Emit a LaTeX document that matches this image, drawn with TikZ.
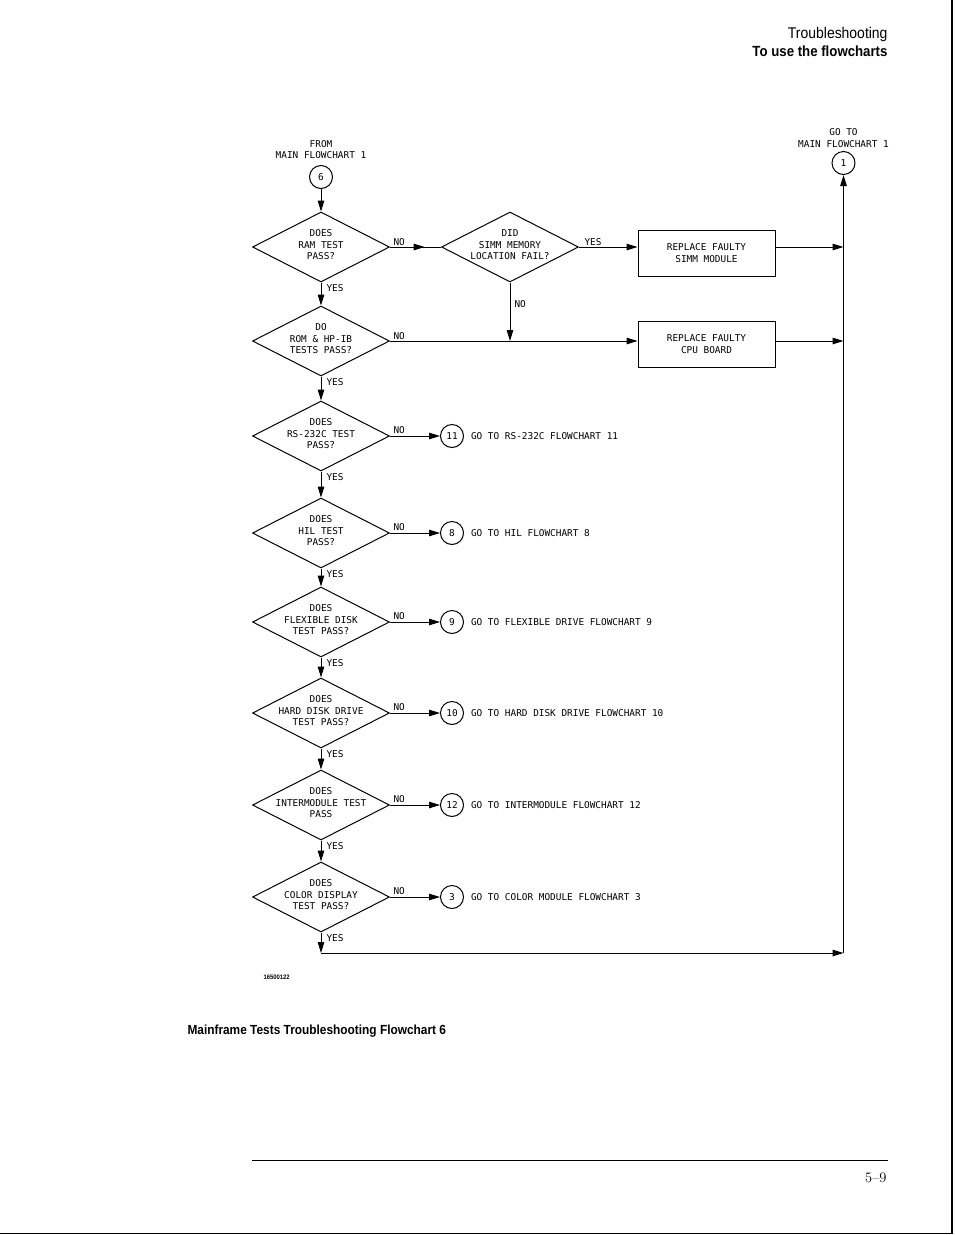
\documentclass[tikz,border=0pt]{standalone}
\usepackage{fontspec}
\newfontfamily\plotfont{DejaVu Sans Mono}
\newfontfamily\hdrfont[FakeStretch=0.9]{Liberation Sans}
\usetikzlibrary{shapes.geometric,arrows.meta,calc}
\begin{document}
\begin{tikzpicture}[x=1pt,y=-1pt,line width=1pt,
  txt/.style={font=\plotfont\fontsize{9.4}{11.5}\selectfont, align=center, inner sep=0pt},
  dl/.style={txt, yshift=2pt},
  dec/.style={diamond, draw, minimum width=137pt, minimum height=70pt, inner sep=0pt},
  conn/.style={circle, draw, minimum size=23pt, inner sep=0pt, font=\plotfont\fontsize{9.4}{11.5}\selectfont},
  stepbox/.style={rectangle, draw, line width=0.9pt, minimum width=137pt, minimum height=46pt, align=center, font=\plotfont\fontsize{9.4}{11.5}\selectfont},
  arr/.style={-{Triangle[length=11pt,width=6.5pt]}},
  lab/.style={txt, anchor=west}]
\fill[white] (0,0) rectangle (954,1235);
\useasboundingbox (0,0) rectangle (954,1235);

% header
\node[anchor=base east, inner sep=0pt, font=\hdrfont\fontsize{15.5}{18}\selectfont] (h1) at (888,38.5) {Troubleshooting};
\node[anchor=base east, inner sep=0pt, font=\hdrfont\bfseries\fontsize{14.7}{18}\selectfont] (h2) at (888,56) {To use the flowcharts};

% start / end connectors
\node[txt] (from) at (321,149.5) {FROM\\MAIN FLOWCHART 1};
\node[conn] (c6) at (321,177) {6};
\node[txt] (goto) at (843.5,138) {GO TO\\MAIN FLOWCHART 1};
\node[conn] (c1) at (843.5,163) {1};

% decisions
\node[dec, label={[dl]center:{DOES\\RAM TEST\\PASS?}}] (d1) at (321,247) {};
\node[dec, label={[dl]center:{DID\\SIMM MEMORY\\LOCATION FAIL?}}] (s) at (510,247) {};
\node[dec, label={[dl]center:{DO\\ROM \& HP-IB\\TESTS PASS?}}] (d2) at (321,341) {};
\node[dec, label={[dl]center:{DOES\\RS-232C TEST\\PASS?}}] (d3) at (321,436) {};
\node[dec, label={[dl]center:{DOES\\HIL TEST\\PASS?}}] (d4) at (321,533) {};
\node[dec, label={[dl]center:{DOES\\FLEXIBLE DISK\\TEST PASS?}}] (d5) at (321,622) {};
\node[dec, label={[dl]center:{DOES\\HARD DISK DRIVE\\TEST PASS?}}] (d6) at (321,713) {};
\node[dec, label={[dl]center:{DOES\\INTERMODULE TEST\\PASS}}] (d7) at (321,805) {};
\node[dec, label={[dl]center:{DOES\\COLOR DISPLAY\\TEST PASS?}}] (d8) at (321,897) {};

% boxes
\node[stepbox] (b1) at (706.5,253) {REPLACE FAULTY\\SIMM MODULE};
\node[stepbox] (b2) at (706.5,344) {REPLACE FAULTY\\CPU BOARD};

% off-page connectors
\node[conn] (c11) at (452,436) {11};
\node[conn] (c8) at (452,533) {8};
\node[conn] (c9) at (452,622) {9};
\node[conn] (c10) at (452,713) {10};
\node[conn] (c12) at (452,805) {12};
\node[conn] (c3) at (452,897) {3};
\node[lab] (t11) at ($(c11.east)+(6.5,0)$) {GO TO RS-232C FLOWCHART 11};
\node[lab] (t8) at ($(c8.east)+(6.5,0)$) {GO TO HIL FLOWCHART 8};
\node[lab] (t9) at ($(c9.east)+(6.5,0)$) {GO TO FLEXIBLE DRIVE FLOWCHART 9};
\node[lab] (t10) at ($(c10.east)+(6.5,0)$) {GO TO HARD DISK DRIVE FLOWCHART 10};
\node[lab] (t12) at ($(c12.east)+(6.5,0)$) {GO TO INTERMODULE FLOWCHART 12};
\node[lab] (t3) at ($(c3.east)+(6.5,0)$) {GO TO COLOR MODULE FLOWCHART 3};

% connectors
\draw[arr] (c6) -- (d1);
\draw (d1.east) -- (s.west);
\draw[arr] (d1.east) -- ($(d1.east)!0.68!(s.west)$);
\node[lab] (no1) at ($(d1.east)+(3,-5)$) {NO};
\draw[arr] (s.east) -- (s.east -| b1.west);
\node[lab] (yess) at ($(s.east)+(5,-5)$) {YES};
\draw[arr] (s.south) -- (s.south |- d2.east);
\node[lab] (nos) at ($(s.south)+(4,22)$) {NO};
\draw[arr] (d2.east) -- (d2.east -| b2.west);
\node[lab] (no2) at ($(d2.east)+(3,-5)$) {NO};

\draw[arr] (b1.east |- s.east) -- (s.east -| c1.south);
\draw[arr] (d2.east -| b2.east) -- (d2.east -| c1.south);

\draw[arr] (d1) -- (d2);
\node[lab] (y1) at ($(d1.south)+(5,6)$) {YES};
\draw[arr] (d2) -- (d3);
\node[lab] (y2) at ($(d2.south)+(5,5.5)$) {YES};
\draw[arr] (d3) -- (d4);
\node[lab] (y3) at ($(d3.south)+(5,5.5)$) {YES};
\draw[arr] (d4) -- (d5);
\node[lab] (y4) at ($(d4.south)+(5,5.5)$) {YES};
\draw[arr] (d5) -- (d6);
\node[lab] (y5) at ($(d5.south)+(5,5.5)$) {YES};
\draw[arr] (d6) -- (d7);
\node[lab] (y6) at ($(d6.south)+(5,5.5)$) {YES};
\draw[arr] (d7) -- (d8);
\node[lab] (y7) at ($(d7.south)+(5,5.5)$) {YES};

\draw[arr] (d3.east) -- (c11.west);
\node[lab] (no3) at ($(d3.east)+(3,-5.5)$) {NO};
\draw[arr] (d4.east) -- (c8.west);
\node[lab] (no4) at ($(d4.east)+(3,-5.5)$) {NO};
\draw[arr] (d5.east) -- (c9.west);
\node[lab] (no5) at ($(d5.east)+(3,-5.5)$) {NO};
\draw[arr] (d6.east) -- (c10.west);
\node[lab] (no6) at ($(d6.east)+(3,-5.5)$) {NO};
\draw[arr] (d7.east) -- (c12.west);
\node[lab] (no7) at ($(d7.east)+(3,-5.5)$) {NO};
\draw[arr] (d8.east) -- (c3.west);
\node[lab] (no8) at ($(d8.east)+(3,-5.5)$) {NO};

\coordinate (jl) at (321,953);
\coordinate (jr) at (843.5,953);
\draw[arr] (d8.south) -- (jl);
\node[lab] (y8) at ($(d8.south)+(5,5.5)$) {YES};
\draw[arr] (jl) -- (jr);
\draw[arr] (jr) -- (c1.south);

% figure code and caption
\node[anchor=base west, inner sep=0pt, font=\hdrfont\bfseries\fontsize{6.5}{8}\selectfont] (code) at (263,979.5) {16500122};
\node[anchor=base west, inner sep=0pt, font=\hdrfont\bfseries\fontsize{13.2}{16}\selectfont] (cap) at (187,1034) {Mainframe Tests Troubleshooting Flowchart 6};

% footer
\draw[line width=1pt] (252,1160) -- (888,1160);
\node[anchor=base east, inner sep=0pt, font=\fontsize{14.5}{16}\selectfont] (pg) at (887,1182) {5--9};
\draw[line width=1.5pt] (952,0) -- (952,1233.5) -- (0,1233.5);
\end{tikzpicture}
\end{document}
